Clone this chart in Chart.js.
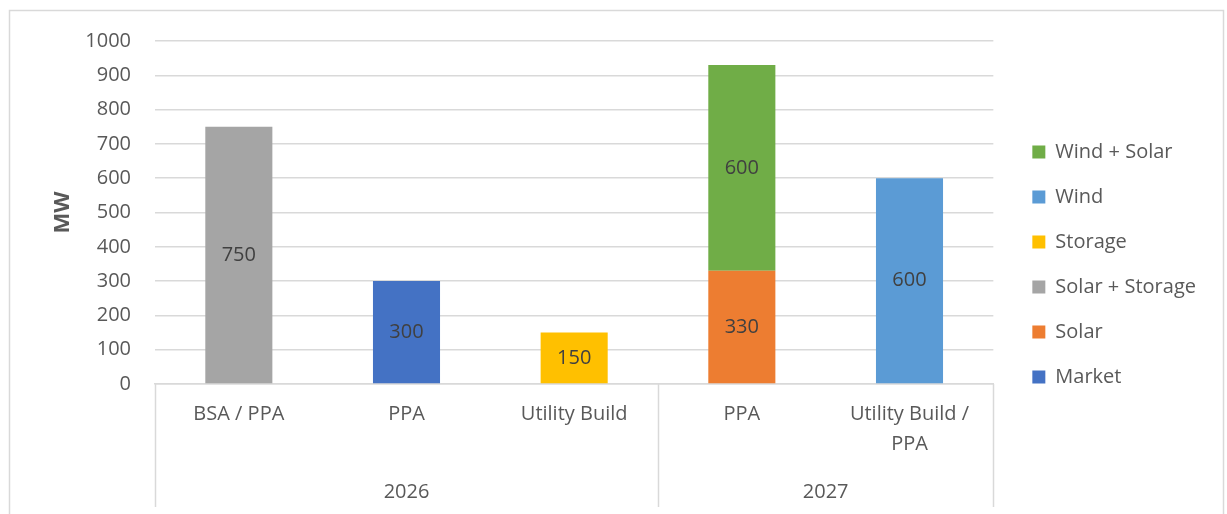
<!DOCTYPE html>
<html>
<head>
<meta charset="utf-8">
<script src="https://cdn.jsdelivr.net/npm/chart.js@4/dist/chart.umd.min.js"></script>
<style>
  html, body { margin: 0; padding: 0; background: #fff; }
  #wrap { width: 1227px; height: 514px; }
</style>
</head>
<body>
<div id="wrap"><canvas id="chart"></canvas></div>
<script>
// Category labels (second level = year groups)
const categories = ['BSA / PPA', 'PPA', 'Utility Build', 'PPA', ['Utility Build /', 'PPA']]
const groupLabels = ['2026', '2027']
const groupSizes = [3, 2]

// Series values (MW)
const market = [null, 300, null, null, null]
const solar = [null, null, null, 330, null]
const solarStorage = [750, null, null, null, null]
const storage = [null, null, 150, null, null]
const wind = [null, null, null, null, 600]
const windSolar = [null, null, null, 600, null]

const yTicks = { min: 0, max: 1000, step: 100 }

const FONT = '"Open Sans", Lato, sans-serif'
const TEXT = '#595959'
const GRID = '#d9d9d9'

// Value labels centered inside each bar segment
const barLabels = {
  id: 'barLabels',
  afterDatasetsDraw(chart) {
    const ctx = chart.ctx
    ctx.save()
    ctx.font = '20px ' + FONT
    ctx.fillStyle = '#404040'
    ctx.textAlign = 'center'
    ctx.textBaseline = 'middle'
    chart.data.datasets.forEach((ds, di) => {
      const meta = chart.getDatasetMeta(di)
      meta.data.forEach((bar, i) => {
        const v = ds.data[i]
        if (v == null) return
        const p = bar.getProps(['x', 'y', 'base'], true)
        ctx.fillText(String(v), p.x, (p.y + p.base) / 2)
      })
    })
    ctx.restore()
  }
}

// Outer frame, group dividers and year labels under the category axis
const groupAxis = {
  id: 'groupAxis',
  beforeDraw(chart) {
    const ctx = chart.ctx
    ctx.save()
    ctx.strokeStyle = GRID
    ctx.lineWidth = 1.5
    ctx.strokeRect(9.5, 10.5, 1214, 560)
    ctx.restore()
  },
  afterDraw(chart) {
    const x = chart.scales.x
    const ctx = chart.ctx
    const w = (x.right - x.left) / categories.length
    const top = x.top
    const bottom = 507
    ctx.save()
    ctx.strokeStyle = GRID
    ctx.lineWidth = 1.5
    let start = 0
    const edges = [0]
    groupSizes.forEach(n => { start += n; edges.push(start) })
    edges.forEach(e => {
      const px = Math.round(x.left + e * w) + 0.5
      ctx.beginPath()
      ctx.moveTo(px, top)
      ctx.lineTo(px, bottom)
      ctx.stroke()
    })
    ctx.font = '20px ' + FONT
    ctx.fillStyle = TEXT
    ctx.textAlign = 'center'
    ctx.textBaseline = 'middle'
    groupLabels.forEach((g, i) => {
      const cx = x.left + (edges[i] + edges[i + 1]) / 2 * w
      ctx.fillText(g, cx, 492)
    })
    ctx.restore()
  }
}

const mk = (label, data, color) => ({
  label, data, backgroundColor: color, borderWidth: 0,
  barPercentage: 0.4, categoryPercentage: 1
})

new Chart(document.getElementById('chart'), {
  type: 'bar',
  data: {
    labels: categories,
    datasets: [
      mk('Market', market, '#4472C4'),
      mk('Solar', solar, '#ED7D31'),
      mk('Solar + Storage', solarStorage, '#A5A5A5'),
      mk('Storage', storage, '#FFC000'),
      mk('Wind', wind, '#5B9BD5'),
      mk('Wind + Solar', windSolar, '#70AD47')
    ]
  },
  options: {
    responsive: true,
    maintainAspectRatio: false,
    animation: false,
    layout: { padding: { left: 10, top: 41, right: 21, bottom: 26 } },
    plugins: {
      legend: {
        position: 'right',
        reverse: true,
        labels: {
          boxWidth: 13,
          boxHeight: 13,
          padding: 25,
          color: TEXT,
          font: { family: FONT, size: 20 }
        }
      },
      tooltip: { enabled: false }
    },
    scales: {
      x: {
        stacked: true,
        grid: { display: false },
        border: { display: true, color: GRID, width: 1.5 },
        ticks: {
          color: TEXT,
          padding: 7,
          maxRotation: 0,
          autoSkip: false,
          font: { family: FONT, size: 20, lineHeight: 1.5 }
        },
        afterFit: s => { s.height = 104 }
      },
      y: {
        stacked: true,
        min: yTicks.min,
        max: yTicks.max,
        grid: { color: GRID, lineWidth: 1.5, drawTicks: false },
        border: { display: false },
        ticks: {
          stepSize: yTicks.step,
          color: TEXT,
          padding: 24,
          font: { family: FONT, size: 20 },
          callback: v => String(v)
        },
        title: {
          display: true,
          text: 'MW',
          color: TEXT,
          padding: { top: 40, bottom: 0 },
          font: { family: FONT, size: 22, weight: 'bold' }
        },
        afterFit: s => { s.width = 145 }
      },
      spacer: {
        position: 'right',
        display: true,
        grid: { display: false, drawTicks: false },
        border: { display: false },
        ticks: { display: false },
        afterFit: s => { s.width = 14 }
      }
    }
  },
  plugins: [barLabels, groupAxis]
})
</script>
</body>
</html>
